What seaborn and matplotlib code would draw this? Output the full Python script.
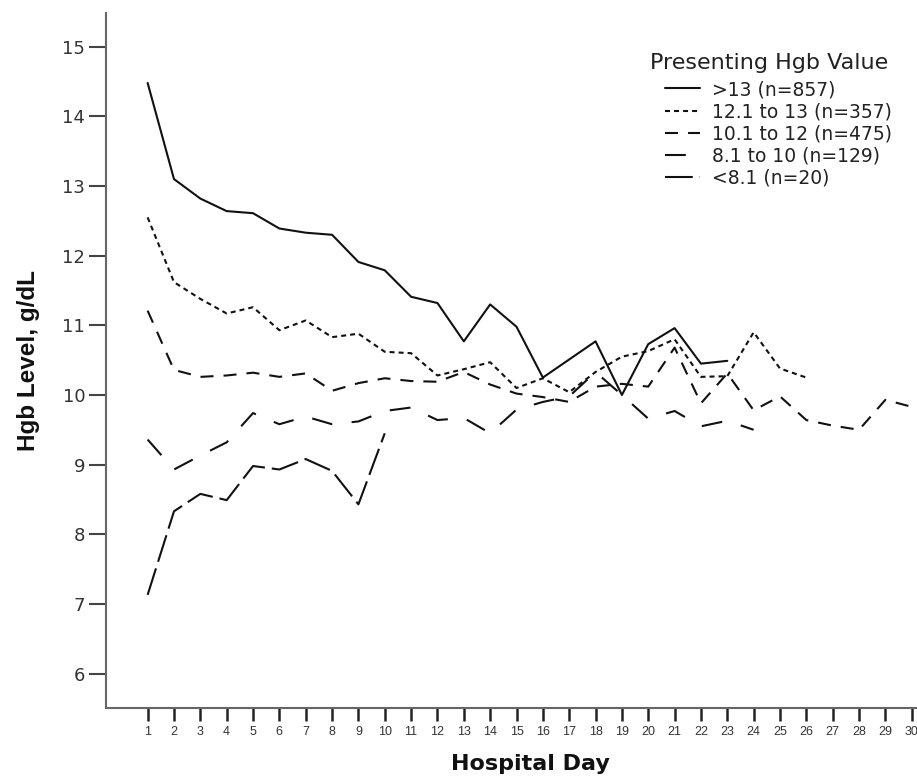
import matplotlib
matplotlib.use("Agg")
import matplotlib.pyplot as plt
import numpy as np
import pandas as pd
import seaborn as sns
from matplotlib import font_manager

# Hospital day on the x axis
days = list(range(1, 31))

# Mean Hgb (g/dL) per hospital day, one list per presenting-Hgb group
hgb_gt13 = [14.48, 13.10, 12.82, 12.64, 12.61, 12.39, 12.33, 12.30, 11.91, 11.79,
            11.41, 11.32, 10.77, 11.30, 10.98, 10.25, 10.51, 10.77, 10.00, 10.73,
            10.96, 10.45, 10.49]
hgb_12_13 = [12.55, 11.62, 11.38, 11.17, 11.26, 10.93, 11.07, 10.83, 10.88, 10.62,
             10.60, 10.28, 10.37, 10.47, 10.10, 10.24, 10.04, 10.33, 10.55, 10.63,
             10.80, 10.26, 10.27, 10.90, 10.38, 10.25]
hgb_10_12 = [11.21, 10.36, 10.26, 10.28, 10.32, 10.26, 10.31, 10.06, 10.17, 10.24,
             10.20, 10.19, 10.33, 10.15, 10.02, 9.97, 9.90, 10.12, 10.16, 10.12,
             10.68, 9.88, 10.31, 9.78, 9.98, 9.64, 9.56, 9.50, 9.93, 9.83]
hgb_8_10 = [9.36, 8.93, 9.13, 9.32, 9.74, 9.58, 9.69, 9.58, 9.62, 9.77,
            9.82, 9.64, 9.67, 9.45, 9.79, 9.90, 9.98, 10.33, 10.00, 9.66,
            9.77, 9.55, 9.63, 9.50]
hgb_lt8 = [7.13, 8.33, 8.58, 8.49, 8.98, 8.93, 9.08, 8.91, 8.43, 9.45]

groups = [">13 (n=857)", "12.1 to 13 (n=357)", "10.1 to 12 (n=475)",
          "8.1 to 10 (n=129)", "<8.1 (n=20)"]
series = [hgb_gt13, hgb_12_13, hgb_10_12, hgb_8_10, hgb_lt8]

y_ticks = list(range(6, 16))

frames = []
for g, vals in zip(groups, series):
    frames.append(pd.DataFrame({"day": days[:len(vals)], "hgb": vals, "group": g}))
df = pd.concat(frames, ignore_index=True)

sns.set_style("ticks")
plt.rcParams["font.family"] = ["DejaVu Sans"]
plt.rcParams["lines.scale_dashes"] = False

installed = {f.name for f in font_manager.fontManager.ttflist}
has_narrow = "Liberation Sans Narrow" in installed

# dash patterns in points (on, off)
dash_map = {
    groups[0]: "",
    groups[1]: (3.6, 2.9),
    groups[2]: (9.4, 7.2),
    groups[3]: (15.0, 14.0),
    groups[4]: (20.0, 5.0),
}
black = {g: "#111111" for g in groups}

fig = plt.figure(figsize=(9.17, 7.8), dpi=100)
ax = fig.add_axes([106 / 917, 72.3 / 780, 811 / 917, 694.4 / 780])

sns.lineplot(data=df, x="day", y="hgb", hue="group", style="group",
             hue_order=groups, style_order=groups, palette=black,
             dashes=dash_map, linewidth=1.5, errorbar=None, legend=False, ax=ax)

ax.set_xlim(-0.58, 30.2)
ax.set_ylim(5.51, 15.48)
ax.set_xticks(days)
ax.set_yticks(y_ticks)
ax.set_xticklabels([str(d) for d in days], fontsize=9,
                   family=["Liberation Sans", "DejaVu Sans"], color="#333333")
ax.set_yticklabels([str(v) for v in y_ticks], fontsize=13, color="#333333")

sns.despine(ax=ax)
for side in ["left", "bottom"]:
    ax.spines[side].set_color("#666666")
    ax.spines[side].set_linewidth(1.5)

ax.tick_params(axis="y", direction="out", length=12, width=1.5, color="#444444", pad=3)
ax.tick_params(axis="x", direction="out", length=9.5, width=1.8, color="#222222", pad=4)

# axis titles
if has_narrow:
    ax.set_ylabel("Hgb Level, g/dL", fontsize=21, fontweight="bold",
                  family=["Liberation Sans Narrow", "DejaVu Sans"], color="#111111")
else:
    ax.set_ylabel("Hgb Level, g/dL", fontsize=17.5, fontweight="bold",
                  family=["Liberation Sans", "DejaVu Sans"], color="#111111")
ax.yaxis.set_label_coords(-0.081, 0.5)
ax.set_xlabel("Hospital Day", fontsize=16, fontweight="bold", color="#111111")
ax.xaxis.set_label_coords(0.523, -0.066)

# legend
fig.text(650 / 917, 1 - 63 / 780, "Presenting Hgb Value", fontsize=16,
         va="center", ha="left", color="#222222")
leg = ax.legend(handles=ax.lines[:len(groups)], labels=groups,
                loc="upper left", bbox_to_anchor=(665 / 917, 1 - 80 / 780),
                bbox_transform=fig.transFigure, frameon=False, fontsize=13.5,
                handlelength=1.87, handletextpad=0.64, labelspacing=0.17,
                borderpad=0, borderaxespad=0)
for t in leg.get_texts():
    t.set_color("#222222")

fig.savefig("out.png", dpi=100)
